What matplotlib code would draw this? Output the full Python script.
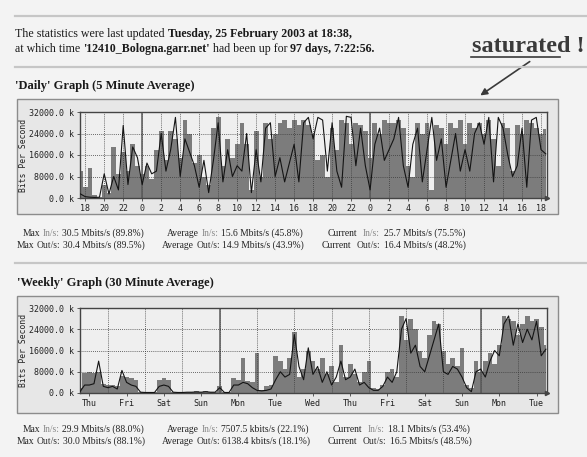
import matplotlib.pyplot as plt
import matplotlib.patches as mpatches
import numpy as np

# 'Daily' graph, kbit/s, one value every half hour starting 17:30 of the first day
daily_in = [10000, 4000, 11000, 1000, 500, 5000, 2000, 19000, 9000, 17000,
            10000, 20000, 12000, 9000, 12000, 7000, 18000, 25000, 14000, 25000,
            22000, 15000, 29000, 24000, 13000, 16000, 8000, 5000, 26000, 30000,
            12000, 22000, 15000, 20000,
            28000, 20000, 3000, 25000, 8000, 28000, 22000, 24000, 28000, 29000,
            26000, 29000, 27000, 29000, 27000, 24000, 14000, 16000, 8000, 26000,
            18000, 29000, 28000, 20000, 28000, 27000, 25000, 15000, 28000, 24000,
            29000, 28000,
            28000, 29000, 26000, 12000, 8000, 28000, 24000, 28000, 3000, 27000,
            26000, 20000, 28000, 26000, 29000, 20000, 28000, 26000, 28000, 24000,
            29000, 22000, 12000, 28000, 26000, 10000, 27000, 24000, 29000, 28000,
            26000, 24000, 25700]
daily_out = [1500, 500, 300, 200, 300, 9000, 1500, 8000, 3000, 27000,
             5000, 19000, 15000, 5000, 13000, 9000, 10000, 24000, 10000, 18000,
             30000, 8000, 22000, 17000, 12000, 4000, 14000, 2000, 14000, 28000,
             6000, 18000, 8000, 12000,
             10000, 24000, 2000, 18000, 6000, 26000, 28000, 8000, 15000, 6000,
             13000, 20000, 6000, 28000, 30000, 22000, 30000, 29000, 10000, 28000,
             10000, 4000, 30400, 30000, 12000, 26000, 12000, 3000, 20000, 26000,
             14000, 18000,
             22000, 30000, 12000, 4000, 20000, 26000, 6000, 18000, 30000, 14000,
             22000, 4000, 14000, 24000, 10000, 18000, 10000, 24000, 28000, 20000,
             30000, 6000, 30000, 26000, 16000, 8000, 12000, 26000, 4000, 29000,
             30000, 18000, 16400]

# 'Weekly' graph, kbit/s, one value every 3 hours starting Thursday 06:00
weekly_in = [2000, 7500, 8000, 7500, 8000, 3500, 3000, 3000, 2500, 6500,
             6000, 5500, 5000, 500, 300, 200, 300, 5000, 5500, 5000,
             500, 200, 300, 500, 400, 600, 500, 700, 500, 400,
             2500, 300, 200, 5500, 5000, 13000, 4500, 4000, 15000, 1000,
             2500, 3000, 14000, 12000, 9000, 13000, 23000, 6000, 9000, 16000, 12000,
             9000, 13000, 7000, 10000, 4000, 18000, 6000, 11000, 7000, 4000,
             8000, 12000, 2000, 1500, 3000, 8000, 9000, 6000, 29000, 20000,
             28000, 24000, 16000, 13000, 22000, 27000, 26000, 16000, 11000, 13000,
             10000, 17000, 3000, 2000, 12000, 8000, 12000, 15000, 11000, 18000,
             29000, 28000, 27000, 22000, 26000, 29000, 27000, 28000, 25000, 18100]
weekly_out = [500, 3000, 3000, 3500, 12000, 2500, 2000, 2500, 1500, 8500,
              4000, 3000, 2500, 300, 200, 200, 200, 2500, 3000, 2500,
              300, 200, 200, 300, 300, 400, 300, 500, 300, 300,
              2000, 200, 200, 3000, 3000, 4000, 3500, 2000, 1000, 800,
              1000, 1500, 5000, 8000, 6000, 7000, 22000, 10000, 5000, 17000, 7000,
              10000, 4000, 8000, 3000, 6000, 12000, 5000, 6000, 9000, 3000,
              4000, 2000, 1000, 1000, 2500, 6000, 4000, 8000, 24000, 28000,
              15000, 18000, 10000, 8000, 14000, 20000, 26000, 8000, 7000, 10000,
              9000, 6000, 2000, 500, 8000, 9000, 6000, 12000, 16000, 14000,
              26000, 29000, 18000, 26000, 19000, 24000, 20000, 27000, 14000, 16500]

daily_start, daily_step, daily_end = 17.5, 0.5, 66.63      # hours
weekly_start, weekly_step, weekly_end = 0.25, 0.125, 12.78  # days from Thu 00:00
daily_ticks = list(range(18, 67, 2))
weekly_days = ['Thu', 'Fri', 'Sat', 'Sun', 'Mon', 'Tue', 'Wed',
               'Thu', 'Fri', 'Sat', 'Sun', 'Mon', 'Tue']
y_ticks = [0, 8000, 16000, 24000, 32000]
y_labels = ['0.0 k', '8000.0 k', '16000.0 k', '24000.0 k', '32000.0 k']

daily_stats_in = ['30.5 Mbits/s (89.8%)', '15.6 Mbits/s (45.8%)', '25.7 Mbits/s (75.5%)']
daily_stats_out = ['30.4 Mbits/s (89.5%)', '14.9 Mbits/s (43.9%)', '16.4 Mbits/s (48.2%)']
weekly_stats_in = ['29.9 Mbits/s (88.0%)', '7507.5 kbits/s (22.1%)', '18.1 Mbits/s (53.4%)']
weekly_stats_out = ['30.0 Mbits/s (88.1%)', '6138.4 kbits/s (18.1%)', '16.5 Mbits/s (48.5%)']

W, H = 587, 457
fig = plt.figure(figsize=(W / 100, H / 100), dpi=100, facecolor='#f3f3f3')
renderer = fig.canvas.get_renderer()
SERIF = 'Liberation Serif'
MONO = 'DejaVu Sans Mono'


def fx(x):
    return x / W


def fy(y):
    return 1 - y / H


def run(x, y, parts, size, gaps=None):
    # draw text pieces one after another, separated by a space
    gap = size * 100 / 72 * 0.25
    for i, (s, weight, color) in enumerate(parts):
        t = fig.text(fx(x), fy(y), s, fontsize=size, fontweight=weight,
                     color=color, family=SERIF, va='baseline')
        x += t.get_window_extent(renderer).width + (gaps[i] if gaps else gap)


def rule(y):
    fig.add_artist(plt.Line2D([fx(15), 1], [fy(y), fy(y)], color='#c6c6c6', lw=1.6))


def box(top, bottom):
    fig.add_artist(mpatches.Rectangle((fx(17), fy(bottom)), (558 - 17) / W, (bottom - top) / H,
                                      transform=fig.transFigure, facecolor='#e7e7e7',
                                      edgecolor='#8c8c8c', lw=1, zorder=-1))


def stats(y, xs1, xs2, vin, vout):
    for i, (x, name, v) in enumerate(zip(xs1, ['Max', 'Average', 'Current'], vin)):
        g = [2.4, 2.4, 2.4] if i < 2 else [5, 4, 2.4]
        run(x, y, [(name, 'normal', '#222'), ('In/s:', 'normal', '#8a8a8a'), (v, 'normal', '#222')], 6.9, g)
    for i, (x, name, v) in enumerate(zip(xs2, ['Max', 'Average', 'Current'], vout)):
        g = [2.4, 2.4, 2.4] if i < 2 else [5, 4, 2.4]
        run(x, y + 12, [(name, 'normal', '#222'), ('Out/s:', 'normal', '#333'), (v, 'normal', '#222')], 6.9, g)


def graph(top, bottom, t, vin, vout, xlim, grid_x, solid_x, ticks, labels):
    ax = fig.add_axes([fx(80), fy(bottom), (547 - 80) / W, (bottom - top) / H])
    ax.set_facecolor('#efefef')
    ax.fill_between(t, 0, vin, step='mid', color='#7c7c7c', lw=0, zorder=1)
    ax.plot(t, vout, color='#141414', lw=0.8, zorder=3)
    for g in grid_x:
        ax.axvline(g, color='#3a3a3a', lw=0.6, ls=(0, (1, 1.5)), zorder=2)
    for g in solid_x:
        ax.axvline(g, color='#5a5a5a', lw=1.1, zorder=2)
    for g in y_ticks[1:-1]:
        ax.axhline(g, color='#3a3a3a', lw=0.6, ls=(0, (1, 1.5)), zorder=2)
    ax.set_xlim(xlim)
    ax.set_ylim(0, 32000)
    ax.set_yticks(y_ticks, y_labels)
    ax.set_xticks(ticks, labels)
    ax.tick_params(labelsize=6, length=2, width=0.6, color='#444', pad=2, labelcolor='#222')
    for lab in ax.get_xticklabels() + ax.get_yticklabels():
        lab.set_family(MONO)
    for s in ax.spines.values():
        s.set_color('#444')
        s.set_linewidth(1)
    ax.set_ylabel('Bits Per Second', family=MONO, fontsize=5.8, color='#222')
    ax.yaxis.set_label_coords((28 - 80) / (547 - 80), 0.5)
    ax.plot(xlim[1], 0, marker='>', ms=3, color='#444', clip_on=False, zorder=4)
    return ax


# header
rule(16)
run(15, 37, [('The statistics were last updated', 'normal', '#1a1a1a'),
             ('Tuesday, 25 February 2003 at 18:38,', 'bold', '#1a1a1a')], 8.6)
run(15, 52, [('at which time', 'normal', '#1a1a1a'),
             ("'12410_Bologna.garr.net'", 'bold', '#1a1a1a'),
             ('had been up for', 'normal', '#1a1a1a'),
             ('97 days, 7:22:56.', 'bold', '#1a1a1a')], 8.6)
fig.text(fx(585), fy(52), 'saturated !', fontsize=17.5, fontweight='bold', family=SERIF,
         color='#3a3a3a', ha='right', va='baseline')
fig.add_artist(plt.Line2D([fx(471), fx(560)], [fy(57), fy(57)], color='#3a3a3a', lw=1.2))
fig.add_artist(mpatches.FancyArrowPatch((fx(532), fy(60)), (fx(478), fy(97)),
                                        transform=fig.transFigure, arrowstyle='-|>',
                                        mutation_scale=10, color='#3a3a3a', lw=1.2))
rule(67)

# daily graph
fig.text(fx(15), fy(89), "'Daily' Graph (5 Minute Average)", fontsize=9, fontweight='bold',
         family=SERIF, color='#1a1a1a', va='baseline')
box(99, 214)
t_daily = daily_start + daily_step * np.arange(len(daily_in))
graph(112, 198, t_daily, daily_in, daily_out, (17.45, daily_end),
      daily_ticks, [h for h in daily_ticks if h % 24 == 0],
      daily_ticks, [str(h % 24) for h in daily_ticks])
stats(236, [23, 167, 328], [17, 162, 322], daily_stats_in, daily_stats_out)
rule(263)

# weekly graph
fig.text(fx(17), fy(286), "'Weekly' Graph (30 Minute Average)", fontsize=9, fontweight='bold',
         family=SERIF, color='#1a1a1a', va='baseline')
box(296, 413)
t_weekly = weekly_start + weekly_step * np.arange(len(weekly_in))
midnights = list(range(1, len(weekly_days)))
graph(308, 393, t_weekly, weekly_in, weekly_out, (weekly_start, weekly_end),
      midnights, [d for d in midnights if weekly_days[d] == 'Mon'],
      [d + 0.5 for d in range(len(weekly_days))], weekly_days)
stats(432, [23, 167, 333], [17, 162, 328], weekly_stats_in, weekly_stats_out)

fig.savefig('out.png', dpi=100, facecolor=fig.get_facecolor())
